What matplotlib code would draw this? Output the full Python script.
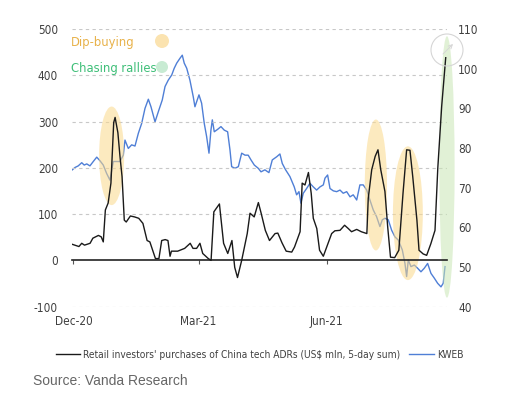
import numpy as np
import pandas as pd
import matplotlib
matplotlib.use("Agg")
import matplotlib.pyplot as plt
from matplotlib.patches import Ellipse, FancyArrowPatch

plt.rcParams["axes.unicode_minus"] = False

# days counted from 30 Nov 2020
start = pd.Timestamp("2020-11-30")

retail_day = [0, 2, 5, 7, 9, 13, 15, 19, 21, 22.5, 24, 26, 28, 30, 31, 33, 34.5, 36, 37.6,
              39, 42, 45, 48, 51, 54, 56, 58, 60, 62.5, 64.5, 67, 69, 70.5, 71.5, 76, 81,
              85, 87, 89.6, 92, 94, 98, 100, 102, 106, 109, 112, 115, 117, 119, 122, 126,
              128, 131, 134, 136, 139, 142, 146, 148, 151, 154, 158, 160, 164, 165.5, 167.5,
              170, 172, 173.5, 176, 178, 180.7, 184, 186.7, 189, 192.7, 196, 198.6, 201,
              204.7, 208, 212, 213, 215.5, 218, 220, 222, 225, 227, 229, 232, 235, 238,
              240.6, 243, 245, 248, 249.5, 252.5, 255, 258, 261, 263, 265.8, 268.7]
retail_val = [35, 33, 30, 37, 33, 37, 48, 54, 51, 40, 109, 124, 167, 298, 309, 276, 225, 181, 87,
              83, 96, 94, 91, 80, 43, 40, 22, 4, 4, 43, 45, 43, 9, 20, 20, 26,
              37, 26, 26, 37, 15, 4, 0, 105, 122, 37, 15, 43, -15, -37, 0, 58,
              102, 94, 125, 102, 65, 43, 58, 59, 38, 20, 18, 29, 62, 167, 163,
              190, 145, 91, 69, 22, 9, 36, 58, 64, 65, 76, 69, 62,
              67, 62, 58, 134, 196, 225, 239, 196, 149, 72, 7, 6, 22, 145,
              239, 238, 181, 87, 22, 14, 11, 36, 65, 199, 333, 438]

kweb_day = [0.2, 2.2, 4.5, 7, 8.8, 10.6, 12.9, 15.3, 17.8, 20.1, 22.5, 24.9, 27.3, 29.7, 32.1,
            34.5, 36.9, 38.1, 40.5, 42.9, 45.3, 47.7, 50.1, 52.5, 54.9, 56.8, 59.7, 62.5,
            64.9, 66.9, 69.2, 71.7, 73.5, 75.3, 77.6, 79.3, 80.7, 82.5, 84.8, 87.2, 88.4,
            91.3, 93.2, 95.1, 96.8, 98.5, 99.9, 100.9, 102.3, 104.7, 107.1, 109.5, 111.9,
            113.6, 114.8, 117.2, 119.6, 122, 124.4, 126.7, 128.7, 131.1, 133.9, 135.9,
            138.7, 141.6, 144, 147.2, 149.5, 151.2, 153.6, 156.7, 159.8, 161.5, 163.2,
            164.6, 166.3, 168.7, 171.1, 173.5, 175.9, 178.3, 180.7, 181.9, 183.8, 185.5,
            187.9, 190.3, 192.7, 195, 197.5, 199.9, 202.2, 204.7, 207, 209.4, 211.9, 214.2,
            216.6, 219, 221.4, 223.1, 225, 227.4, 229.8, 232.2, 234.6, 237.5, 239.4,
            240.6, 241.8, 243.7, 246.1, 248.5, 250.9, 253.3, 255.7, 258.1, 260.5, 262.9,
            265.3, 266.9, 268.2]
kweb_val = [74.5, 75.1, 75.5, 76.3, 75.7, 76, 75.5, 76.6, 77.7, 76.8, 75.7, 73.6, 71.9, 76.6, 76.6,
            76.6, 78.2, 82, 79.9, 80.8, 80.5, 83.7, 86.2, 90, 92.3, 90.4, 86.6, 89.6,
            92.1, 95.5, 97.1, 98.4, 100.1, 101.4, 102.6, 103.4, 101.4, 100.1, 97.1, 92.9, 90.4,
            93.4, 91.3, 86.2, 82.9, 78.7, 84.5, 87.1, 84.1, 84.7, 85.4, 84.5, 84.1,
            79.5, 75.3, 74.9, 75.3, 78.7, 78.2, 78.2, 77, 75.7, 74.9, 74,
            74.5, 73.8, 77, 77.8, 78.5, 76.1, 74.5, 72.8, 70.2, 68.2, 69,
            66.1, 68.6, 69.8, 71.1, 70.2, 69.4, 70.2, 70.7, 72.4, 73.2, 69.8,
            69.2, 69, 69.4, 68.6, 69, 67.7, 68.2, 66.9, 70.7, 70.7, 69.4, 66.9,
            64.4, 62.7, 60.2, 61.9, 62.3, 61.9, 59.3, 57.6, 56.8, 54.3, 50.9,
            47.6, 51.8, 50.1, 50.5, 49.7, 48.8, 49.7, 50.9, 48.4, 47.2, 45.9,
            45, 45.9, 50.1]

tick_dates = ["2020-12-01", "2021-03-01", "2021-06-01"]
tick_labels = ["Dec-20", "Mar-21", "Jun-21"]

retail_x = start + pd.to_timedelta(retail_day, unit="D")
kweb_x = start + pd.to_timedelta(kweb_day, unit="D")

narrow = dict(family="DejaVu Sans", stretch="condensed")
txt = "#404040"

fig = plt.figure(figsize=(5.19, 3.98), dpi=100)
ax = fig.add_axes([0.1387, 0.2294, 0.7225, 0.6977])
ax2 = ax.twinx()
ax.set_zorder(ax2.get_zorder() + 1)
ax.patch.set_visible(False)

ax.set_ylim(-100, 500)
ax2.set_ylim(40, 110)
ax.set_xlim(start, start + pd.Timedelta(days=269.6))

# highlight ellipses (in left-axis units)
orange = "#FBD98C"
green = "#C9E6B5"
for c, w, y, h, col in [(28.5, 18, 226, 213, orange), (218.5, 16, 163, 283, orange),
                        (241.5, 21.5, 102, 289, orange), (269.6, 11, 202, 565, green)]:
    e = Ellipse((matplotlib.dates.date2num(start + pd.Timedelta(days=c)), y),
                width=w, height=h, facecolor=col, edgecolor="none", alpha=0.55,
                zorder=1, clip_on=False)
    ax.add_patch(e)

l1, = ax.plot(retail_x, retail_val, color="#1a1a1a", lw=1.0, zorder=3)
l2, = ax2.plot(kweb_x, kweb_val, color="#4F7FD6", lw=1.0)

ax.set_yticks(np.arange(-100, 501, 100))
ax2.set_yticks(np.arange(40, 111, 10))
for v in [-100, 100, 200, 300, 400, 500]:
    ax.axhline(v, color="#c8c8c8", lw=0.8, ls=(0, (3, 3)), zorder=0)

for a in (ax, ax2):
    for s in ["top", "left", "right"]:
        a.spines[s].set_visible(False)
ax2.spines["bottom"].set_visible(False)
ax.spines["bottom"].set_position(("data", 0))
ax.spines["bottom"].set_color("#222222")
ax.spines["bottom"].set_linewidth(1.2)

ax.set_xticks(pd.to_datetime(tick_dates))
ax.set_xticklabels(tick_labels)
ax.tick_params(axis="x", length=3, width=0.8, color="#555555", pad=36, labelsize=8.5,
               labelcolor=txt)
ax.tick_params(axis="y", length=0, pad=10, labelsize=8.5, labelcolor=txt)
ax2.tick_params(axis="y", length=0, pad=8, labelsize=8.5, labelcolor=txt)
for lab in ax.get_xticklabels() + ax.get_yticklabels() + ax2.get_yticklabels():
    lab.set_family("DejaVu Sans")
    lab.set_stretch("condensed")

# annotation legend top-left
fig.text(0.136, 0.892, "Dip-buying", color="#E8B24A", fontsize=9.3, va="center", **narrow)
fig.text(0.136, 0.829, "Chasing rallies", color="#3EBF78", fontsize=9.3, va="center", **narrow)
fig.patches.append(Ellipse((162 / 519, 1 - 41 / 398), 14 / 519, 14 / 398,
                           transform=fig.transFigure, facecolor="#FBE3B0", edgecolor="none"))
fig.patches.append(Ellipse((162 / 519, 1 - 67 / 398), 12 / 519, 12 / 398,
                           transform=fig.transFigure, facecolor="#C8EBD3", edgecolor="none"))

# expand icon overlay in the top right corner
fig.patches.append(Ellipse((447 / 519, 1 - 50 / 398), 32 / 519, 32 / 398,
                           transform=fig.transFigure, facecolor="none",
                           edgecolor="#d6d6d6", lw=0.8))
fig.patches.append(FancyArrowPatch(
    (441 / 519, 1 - 56 / 398), (455 / 519, 1 - 42 / 398), transform=fig.transFigure,
    arrowstyle="->", mutation_scale=7, color="#d6d6d6", lw=0.7))

fig.legend([l1, l2], ["Retail investors' purchases of China tech ADRs (US$ mln, 5-day sum)", "KWEB"],
           loc="center", bbox_to_anchor=(0.5, 0.108), ncol=2, frameon=False,
           handlelength=2.4, handletextpad=0.3, columnspacing=0.9,
           prop={"family": "DejaVu Sans", "stretch": "condensed", "size": 7.3},
           labelcolor=txt)

fig.text(0.064, 0.025, "Source: Vanda Research", color="#666666", fontsize=10,
         family="Liberation Sans", va="bottom")

fig.savefig("out.png", dpi=100)
